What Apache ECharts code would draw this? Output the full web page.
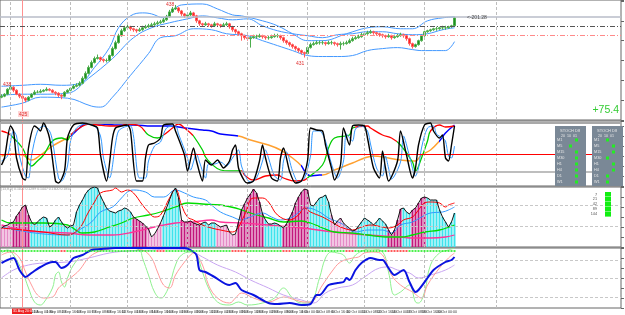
<!DOCTYPE html>
<html><head><meta charset="utf-8">
<script src="https://cdn.jsdelivr.net/npm/echarts@6/dist/echarts.min.js"></script>
<style>html,body{margin:0;padding:0;background:#fff}#c{width:625px;height:315px}</style>
</head><body><div id="c"></div>
<script>
// ---------- DATA ----------
const TOTAL_SLOTS = 207;
// price pane (candles)
const closes = [24,26,31,33,30,26,24,22,20,23,
 26,28,28,29,30,31,30,28,27,25,
 24,28,30,32,34,35,37,42,47,53,
 58,62,63,61,60,60,65,72,78,85,
 90,93,94,92,91,90,91,93,94,95,
 96,97,98,99,101,104,109,112,113,110,
 107,105,106,108,105,100,97,96,97,96,
 95,97,96,95,96,97,94,91,89,87,
 85,83,82,83,84,84,85,84,83,83,
 84,85,85,83,80,78,76,74,72,70,
 68,67,73,76,77,78,78,78,77,78,
 78,77,76,77,77,78,80,82,83,84,
 86,87,88,89,88,87,86,85,84,85,
 83,84,85,86,85,82,77,74,76,80,
 85,89,90,91,92,92,93,93,93,94,
 95,103];
const firstOpen = 23;
const highs = [26,27,32,35,34,31,27,25,23,24,
 27,30,30,31,31,33,32,31,29,28,
 26,29,31,33,36,37,39,44,49,55,
 60,64,66,64,62,62,66,74,80,87,
 92,95,96,95,93,92,93,95,96,97,
 98,99,100,101,103,106,111,114,116,114,
 111,108,108,110,109,106,101,98,99,98,
 97,99,98,97,98,99,98,95,92,90,
 88,86,84,84,86,86,87,86,85,85,
 86,87,87,86,84,81,79,77,75,73,
 71,69,74,78,79,80,80,80,79,80,
 80,79,78,79,79,80,82,84,85,86,
 88,89,90,91,90,89,88,87,86,87,
 86,86,87,88,87,86,83,78,77,81,
 86,90,91,92,93,94,94,95,95,95,
 96,104];
const lows = [22,23,25,30,28,25,22,20,18,19,
 22,25,27,27,28,29,29,27,25,23,
 21,23,27,29,31,33,34,36,41,46,
 52,57,61,59,58,58,59,64,71,77,
 84,89,92,90,89,88,89,90,92,93,
 94,95,96,97,98,100,103,108,111,108,
 105,103,104,105,103,98,95,94,95,94,
 93,94,94,93,94,95,92,89,87,85,
 80,81,80,73,82,82,83,82,81,81,
 82,83,83,81,78,76,74,72,70,68,
 66,63,66,72,75,76,76,76,75,76,
 76,75,74,71,75,76,77,79,81,82,
 83,85,86,87,86,85,84,83,82,83,
 81,82,83,84,83,80,75,72,73,75,
 79,84,88,89,90,90,91,91,91,92,
 93,94];
const bbUpper = [[0,34],[7,35],[13,36],[20,35],[26,37],[31,53],[36,73],[39,93],[43,105],[47,108],[50,107],[54,103],[58,113],[60,116],[67,117],[72,112],[77,106],[80,105],[87,100],[92,95],[97,87],[102,80],[107,80],[115,87],[122,93],[127,94],[133,92],[137,92],[142,100],[147,103],[151,104]];
const bbMiddle = [[0,25],[7,26],[13,26],[22,27],[29,42],[37,62],[44,83],[50,93],[56,98],[62,102],[67,105],[72,103],[77,101],[82,102],[87,95],[92,90],[97,87],[102,85],[107,83],[112,86],[117,87],[122,89],[127,89],[132,87],[137,86],[142,87],[147,91],[151,93]];
const bbLower = [[0,13],[7,17],[13,23],[22,22],[30,14],[33,13],[37,23],[43,45],[49,67],[53,83],[58,85],[64,92],[70,91],[75,87],[82,85],[87,80],[92,75],[97,70],[102,65],[107,64],[112,64],[117,65],[122,70],[127,72],[132,73],[137,71],[140,70],[145,70],[148,70],[151,79]];
const priceLevels = [104, 95, 85];

// stochastic pane
const stochFast = [[0,21],[1,28],[3,60],[4,55],[5,28],[7,8],[8,6],[9,38],[11,60],[12,58],[13,55],[14,63],[16,48],[18,5],[19,3],[21,15],[22,48],[24,61],[27,63],[30,61],[32,58],[33,31],[35,5],[37,48],[38,58],[40,60],[42,61],[43,55],[45,5],[47,5],[48,28],[49,41],[51,43],[53,48],[54,61],[57,62],[58,55],[61,31],[62,15],[64,38],[65,25],[67,5],[68,26],[70,21],[72,26],[74,18],[76,25],[77,36],[78,41],[79,18],[81,5],[82,3],[84,5],[86,25],[87,41],[88,28],[90,8],[92,5],[93,28],[94,38],[96,15],[98,3],[100,5],[102,25],[103,58],[105,56],[107,55],[108,41],[110,18],[111,6],[113,21],[114,58],[116,41],[117,60],[119,61],[121,60],[122,48],[124,18],[126,8],[127,35],[128,18],[129,5],[132,25],[133,55],[135,31],[137,8],[138,18],[139,41],[141,61],[143,63],[144,55],[146,48],[147,51],[148,28],[149,25],[150,41],[151,60]];
const stochSignal = [[0,25],[2,30],[4,55],[5,50],[6,30],[8,10],[9,8],[10,30],[12,55],[14,60],[16,55],[17,45],[19,8],[20,5],[22,20],[23,45],[25,58],[28,62],[31,60],[33,50],[34,28],[36,8],[38,42],[39,55],[41,59],[43,60],[44,50],[46,8],[48,8],[49,25],[51,40],[53,44],[55,58],[58,60],[59,52],[62,28],[63,16],[65,32],[66,24],[68,8],[69,22],[71,22],[73,24],[75,20],[77,28],[79,36],[80,20],[82,6],[83,4],[85,8],[87,25],[88,36],[89,28],[91,10],[93,6],[94,25],[95,34],[97,15],[99,4],[101,8],[103,30],[104,55],[106,55],[108,45],[110,22],[112,8],[114,25],[115,52],[117,45],[118,57],[120,60],[122,55],[123,42],[125,18],[127,10],[128,30],[129,18],[130,7],[133,24],[134,50],[136,30],[138,10],[139,18],[140,38],[142,58],[144,60],[145,52],[147,48],[148,45],[149,30],[150,28],[151,40]];
const stochMedium = [[0,55],[2,53],[3,51],[7,38],[10,20],[12,25],[14,31],[17,45],[20,48],[22,46],[23,51],[26,58],[29,62],[32,61],[36,60],[39,60],[42,62],[46,60],[49,51],[52,48],[54,51],[57,58],[59,62],[61,58],[63,53],[64,50],[67,36],[68,29],[70,22],[73,16],[76,15],[80,15],[81,11],[84,6],[88,10],[92,11],[94,8],[98,5],[101,6],[102,8],[107,21],[109,38],[111,48],[116,51],[117,58],[122,60],[123,58],[127,51],[130,48],[133,41],[137,24],[138,15],[140,28],[142,45],[143,55],[146,61],[148,59],[151,60]];
const stochSlow = [[0,30],[3,32],[7,31],[10,26],[13,31],[17,40],[20,45],[23,50],[26,58],[28,62],[33,62],[39,61],[44,61],[50,60],[56,60],[61,58],[67,56],[70,55],[73,52],[79,50],[83,46],[89,41],[93,36],[97,28],[100,20],[101,15],[103,10],[106,11],[107,11],[111,16],[117,23],[121,28],[124,30],[129,28],[133,26],[137,25],[138,25],[140,31],[143,36],[146,45],[148,53],[151,61]];
const mediumSegments = [[0,3,'up'],[3,23,'dn'],[23,48,'up'],[48,54,'dn'],[54,64,'up'],[64,80,'dn'],[80,102,'up'],[102,118,'dn'],[118,132,'up'],[132,143,'dn'],[143,152,'up']];
const slowSegments = [[0,23,'mid'],[23,79,'hi'],[79,100,'mid'],[100,107,'hi'],[107,146,'mid'],[146,152,'hi']];
const stochLevels = [63, 32, 14];
const boxRows = ['M1','M5','M15','M30','H1','H4','D1','W1'];
const box1Cols = [2,1,2,2,2,2,2,2];
const box2Cols = [1,2,2,1,2,2,1,1];

// histogram pane
const histValues = [19,21,22,24,25,31,35,40,42,32,
 25,22,25,28,30,29,20,22,27,30,
 25,21,19,21,22,35,42,47,53,57,
 59,60,59,51,45,39,36,35,34,36,
 37,39,38,35,30,28,26,24,21,18,
 10,13,18,24,31,39,47,55,59,49,
 27,25,25,26,24,23,22,24,25,22,
 24,24,22,20,21,22,15,12,13,25,
 37,43,49,53,58,54,45,33,27,23,
 23,24,23,21,19,23,29,35,44,50,
 55,58,57,42,41,45,49,50,52,45,
 32,22,26,29,24,21,19,16,17,21,
 25,29,27,25,22,25,29,26,23,17,
 12,17,27,38,39,35,33,37,39,44,
 49,50,49,47,47,47,37,30,25,20,
 25,34];
const histColorRuns = [['p',4],['m',6],['c',34],['m',5],['p',5],['c',6],['m',7],['c',5],['p',7],['m',9],['c',6],['m',9],['c',7],['p',9],['c',10],['m',5],['c',3],['m',5],['c',10]];
const histRed = [[0,19],[7,17],[14,15],[22,12],[26,19],[29,35],[31,45],[33,54],[37,57],[38,59],[40,55],[42,57],[44,54],[47,42],[49,35],[51,30],[53,32],[56,49],[58,58],[60,42],[62,30],[64,27],[67,22],[70,19],[73,17],[77,15],[79,20],[81,32],[84,49],[87,49],[89,45],[92,32],[96,27],[99,32],[101,39],[103,35],[107,30],[110,25],[113,20],[117,17],[120,20],[123,22],[127,20],[129,19],[132,22],[134,27],[137,30],[139,37],[141,44],[143,45],[146,44],[148,40],[149,42],[151,44]];
const histBlue = [[0,20],[11,14],[22,12],[27,19],[30,25],[33,35],[37,40],[40,49],[42,55],[44,57],[48,55],[51,50],[54,50],[58,57],[61,54],[64,50],[68,47],[70,42],[73,35],[77,30],[80,27],[82,29],[87,34],[90,30],[93,27],[97,30],[100,37],[102,39],[106,35],[109,29],[113,24],[118,15],[122,17],[127,17],[130,14],[133,22],[137,25],[140,30],[143,34],[147,35],[149,37],[151,40]];
const histGreen = [[0,27],[3,24],[9,24],[14,24],[22,22],[27,14],[31,15],[36,20],[40,24],[44,29],[49,32],[53,35],[58,40],[62,44],[67,43],[73,42],[78,39],[83,34],[89,29],[94,25],[100,26],[103,24],[107,19],[111,15],[117,14],[122,12],[128,10],[133,10],[137,12],[141,15],[146,17],[151,22]];
const histPink = [[0,22],[7,17],[13,15],[22,14],[29,12],[37,12],[44,15],[51,20],[58,24],[64,25],[70,27],[73,25],[80,24],[89,22],[100,19],[111,15],[122,12],[133,10],[137,9],[143,9],[148,10],[151,12]];
const histLevels = [42, 21];
const periodLabels = ['7','21','42','89','144'];

// bottom pane
const lowBlue = [[0,45],[2,48],[4,50],[6,38],[8,31],[10,35],[13,41],[17,46],[18,46],[20,40],[22,43],[24,50],[27,53],[30,58],[33,59],[38,60],[44,60],[50,60],[56,60],[61,60],[63,58],[65,53],[66,38],[68,36],[71,31],[76,23],[78,25],[80,18],[84,13],[89,5],[92,4],[96,5],[100,3],[103,4],[105,13],[106,13],[109,23],[112,25],[114,26],[115,30],[116,28],[118,38],[120,45],[123,50],[126,48],[127,48],[129,40],[131,33],[134,38],[136,26],[138,16],[139,18],[142,30],[144,38],[148,46],[150,48],[151,51]];
const lowRed = [[0,53],[3,56],[6,50],[8,36],[10,23],[12,13],[14,10],[17,11],[19,20],[21,25],[23,30],[26,38],[29,50],[32,56],[36,59],[42,60],[47,58],[50,50],[52,36],[54,23],[56,20],[58,33],[61,46],[63,53],[64,55],[67,43],[69,23],[72,10],[76,5],[78,10],[80,15],[84,10],[89,6],[94,11],[98,8],[101,6],[103,6],[107,23],[110,36],[113,46],[117,50],[119,51],[121,55],[124,56],[127,53],[130,33],[133,23],[137,16],[140,10],[142,23],[146,40],[149,50],[151,55]];
const lowGreen = [[0,55],[2,58],[4,53],[7,36],[9,20],[11,6],[13,3],[14,5],[17,20],[18,33],[19,36],[20,26],[21,21],[22,30],[24,43],[27,53],[30,58],[33,60],[38,60],[42,60],[46,58],[47,50],[49,33],[51,16],[53,10],[54,11],[56,23],[58,43],[60,53],[63,56],[65,53],[67,36],[69,20],[72,6],[76,3],[79,6],[82,3],[87,5],[91,10],[94,20],[97,10],[100,5],[103,6],[106,30],[108,50],[110,56],[112,55],[114,53],[116,45],[118,53],[121,58],[123,59],[127,56],[129,36],[131,13],[133,16],[136,23],[138,6],[139,5],[141,16],[143,43],[146,55],[149,58],[151,60]];
const lowPurple = [[0,30],[4,38],[9,43],[14,45],[22,46],[29,50],[36,55],[42,57],[50,58],[56,59],[62,58],[67,51],[72,43],[78,36],[83,28],[89,20],[94,13],[100,8],[104,5],[108,15],[112,20],[117,23],[121,31],[126,40],[129,41],[132,38],[136,35],[139,30],[143,33],[148,38],[151,43]];
const dotRuns = [['g',20],['r',2],['g',30],['r',3],['g',22],['r',5],['g',12],['r',3],['g',18],['r',3],['g',11],['r',7],['g',16]];
const dotLevel = 57;
const lowLevels = [48, 30, 11];

// time axis
const weekLines = [3,23,42,62,82,102,121,141,165];
const cursorIndex = 7;
const tickLabels = ['26 Aug 2016','29 Aug 16:00','31 Aug 00:00','1 Sep 08:00','2 Sep 16:00','6 Sep 00:00','7 Sep 08:00','8 Sep 16:00','12 Sep 00:00','13 Sep 08:00','14 Sep 16:00','16 Sep 00:00','19 Sep 08:00','20 Sep 16:00','22 Sep 00:00','23 Sep 08:00','26 Sep 16:00','28 Sep 00:00','29 Sep 08:00','30 Sep 16:00','4 Oct 00:00','5 Oct 08:00','6 Oct 16:00','10 Oct 00:00','11 Oct 08:00','12 Oct 16:00','14 Oct 00:00','17 Oct 08:00','18 Oct 16:00','20 Oct 00:00','21 Oct 08:00'];
const TICK_EVERY = 5;

// ---------- BUILD ----------
const FONT = '"Liberation Sans", Arial, sans-serif';
const cats = Array.from({length: TOTAL_SLOTS}, (_, i) => String(i));
const opens = [firstOpen].concat(closes.slice(0, -1));
const candleData = closes.map((c, i) => [opens[i], c, lows[i], highs[i]]);
const expandRuns = runs => runs.reduce((a, r) => a.concat(Array(r[1]).fill(r[0])), []);
const histColorMap = {c: '#3fe3ec', m: '#c2177c', p: '#e58ac6'};
const histCodes = expandRuns(histColorRuns);
const histData = histValues.map((v, i) => ({value: v, itemStyle: {color: histColorMap[histCodes[i]]}}));
const dotColorMap = {g: '#22ee22', r: '#ff3333'};
const dotCodes = expandRuns(dotRuns);
const dotData = dotCodes.map((c, i) => ({value: [i, dotLevel], itemStyle: {color: dotColorMap[c]}}));

const grids = [
  {top: -1, height: 121}, {top: 121, height: 65}, {top: 187, height: 60}, {top: 248, height: 60}
].map(g => Object.assign({left: 0, right: 4, show: true, borderColor: '#666', borderWidth: 1, backgroundColor: 'transparent'}, g));
const yMax = [121, 65, 60, 60];

const vLine = i => ({xAxis: i, lineStyle: {color: '#bdbdbd', type: [3, 2], width: 1}});
function helper(gi, extra) {
  return {type: 'line', xAxisIndex: gi, yAxisIndex: gi, data: [], silent: true, z: 1,
    markLine: {symbol: 'none', silent: true, animation: false, label: {show: false},
      data: weekLines.map(vLine).concat([{xAxis: cursorIndex, lineStyle: {color: '#ff9090', type: 'solid', width: 1}}]).concat(extra)}};
}
const hLine = (v, color, type, width) => ({yAxis: v, lineStyle: {color, type, width}});
function line(gi, data, color, width, smooth, z) {
  const s = {type: 'line', xAxisIndex: gi, yAxisIndex: gi, data, symbol: 'none', smooth: smooth,
    lineStyle: {width}, z: z || 3, silent: true};
  if (color) { s.lineStyle.color = color; s.itemStyle = {color}; }
  return s;
}

const series = [];
series.push(helper(0, [hLine(priceLevels[0], '#b9bdc9', 'solid', 1.5), hLine(priceLevels[1], '#555', [5, 2, 1, 2], 1), hLine(priceLevels[2], '#ff8a8a', [5, 2, 1, 2], 1)]));
series.push({type: 'candlestick', xAxisIndex: 0, yAxisIndex: 0, data: candleData, barWidth: 2, z: 4,
  itemStyle: {color: '#1f8f1f', color0: '#ff2020', borderColor: '#4cae4c', borderColor0: '#ff5a5a', borderWidth: 1}});
series.push(line(0, bbUpper, '#4499ff', 1, 0.4));
series.push(line(0, bbMiddle, '#4499ff', 1, 0.4));
series.push(line(0, bbLower, '#4499ff', 1, 0.4));

series.push(helper(1, [hLine(stochLevels[0], '#a9a9a9', 'solid', 2), hLine(stochLevels[1], '#ff0000', 'solid', 1), hLine(stochLevels[2], '#a9a9a9', 'solid', 1.5)]));
const slowIdx = series.length; series.push(line(1, stochSlow, null, 1.5, 0.4));
const medIdx = series.length; series.push(line(1, stochMedium, null, 1.3, 0.4));
series.push(line(1, stochSignal, '#3399ff', 1, 0.3));
series.push(line(1, stochFast, '#000000', 1.4, 0.25, 5));

series.push(helper(2, [hLine(histLevels[0], '#c8c8c8', [3, 2], 1), hLine(histLevels[1], '#c8c8c8', [3, 2], 1)]));
series.push({type: 'bar', xAxisIndex: 2, yAxisIndex: 2, data: histData, barWidth: 2, z: 2, silent: true});
series.push(line(2, histPink, '#ff3399', 1.3, 0.4));
series.push(line(2, histGreen, '#00dd00', 1.3, 0.4));
series.push(line(2, histBlue, '#3399ff', 1, 0.4));
series.push(line(2, histRed, '#ff0000', 1, 0.4));
series.push(line(2, histValues, '#111111', 1, false, 5));

series.push(helper(3, lowLevels.map(v => hLine(v, '#c8c8c8', [3, 2], 1))));
series.push(line(3, lowPurple, '#c9a6f2', 1, 0.4));
series.push(line(3, lowGreen, '#8ff08f', 1, 0.4));
series.push(line(3, lowRed, '#ff9a9a', 1, 0.4));
series.push(line(3, lowBlue, '#0a14e0', 2, 0.3, 5));
series.push({type: 'scatter', xAxisIndex: 3, yAxisIndex: 3, data: dotData, symbol: 'rect', symbolSize: [2, 2], z: 6, silent: true});

const segColors = {up: '#ff0000', dn: '#00cc00', hi: '#0000ff', mid: '#ffa030'};
const toPieces = segs => segs.map(s => ({gte: s[0], lt: s[1], color: segColors[s[2]]}));

// graphics
const graphics = [];
const txt = (x, y, text, size, fill, extra) => graphics.push(Object.assign({type: 'text', x, y, silent: true, z: 20,
  style: Object.assign({text, fill, font: size + 'px ' + FONT}, extra || {})}));
txt(619, 105, '+75.4', 10.5, '#33cc33', {align: 'right'});
txt(467, 15, '<-201.28', 5, '#444');
txt(3, 82, '438', 5, '#e03030');
graphics.push({type: 'rect', shape: {x: 18, y: 111, width: 11, height: 6}, style: {fill: '#ffd6d6'}, silent: true, z: 19});
txt(19, 112, '425', 5, '#e03030');
txt(166, 2, '438', 5, '#e03030');
txt(296, 61, '431', 5, '#e03030');
txt(1, 187.5, '(13,8,5) 0.1102 0.1289 0.1447 0.1600 0.1854', 3.5, '#999');

const rowY = [140, 146, 152, 158, 164, 170, 176, 182];
[[555, box1Cols], [592, box2Cols]].forEach(([bx, cols]) => {
  graphics.push({type: 'rect', shape: {x: bx, y: 126, width: 31, height: 60}, style: {fill: '#7a8896'}, silent: true, z: 18});
  txt(bx + 5, 128.5, 'STOCH D8', 4, '#e6e6e6');
  txt(bx + 6, 133.5, '20  10  01', 3.6, '#e6e6e6');
  boxRows.forEach((r, k) => {
    txt(bx + 2, rowY[k] - 2, r, 3.8, '#e6e6e6');
    graphics.push({type: 'rect', shape: {x: bx + 6 * cols[k] + 2 + 6, y: rowY[k] - 1.5, width: 3, height: 3}, style: {fill: '#22ee22'}, silent: true, z: 19});
  });
});
periodLabels.forEach((t, k) => txt(597, 192.5 + k * 4.8, t, 3.8, '#555', {align: 'right'}));
for (let k = 0; k < 5; k++) graphics.push({type: 'rect', shape: {x: 605, y: 192 + k * 5, width: 6, height: 4.6}, style: {fill: '#11ee11'}, silent: true, z: 19});
graphics.push({type: 'rect', shape: {x: 12, y: 308.5, width: 20, height: 5.5}, style: {fill: '#ee2222'}, silent: true, z: 19});
txt(13, 309.3, '31 Aug 20:00', 3.5, '#fff');

const option = {
  animation: false,
  backgroundColor: '#ffffff',
  grid: grids,
  xAxis: [0, 1, 2, 3].map(i => ({type: 'category', gridIndex: i, data: cats, boundaryGap: true,
    axisLine: {show: false}, axisTick: {show: false}, splitLine: {show: false},
    axisLabel: i === 3 ? {show: true, interval: idx => idx % TICK_EVERY === 0 && idx < closes.length,
      formatter: v => tickLabels[Number(v) / TICK_EVERY] || '', fontSize: 3.6, color: '#333', margin: 2, align: 'left', fontFamily: FONT} : {show: false}})),
  yAxis: yMax.map((m, i) => ({type: 'value', gridIndex: i, min: 0, max: m, position: 'right',
    axisLine: {show: false}, axisTick: {show: true, length: 3, lineStyle: {color: '#666'}},
    axisLabel: {show: false}, splitLine: {show: false}, splitNumber: 6})),
  visualMap: [
    {type: 'piecewise', show: false, dimension: 0, seriesIndex: medIdx, pieces: toPieces(mediumSegments)},
    {type: 'piecewise', show: false, dimension: 0, seriesIndex: slowIdx, pieces: toPieces(slowSegments)}
  ],
  series: series,
  graphic: graphics
};
const chart = echarts.init(document.getElementById('c'));
chart.setOption(option);
</script></body></html>
